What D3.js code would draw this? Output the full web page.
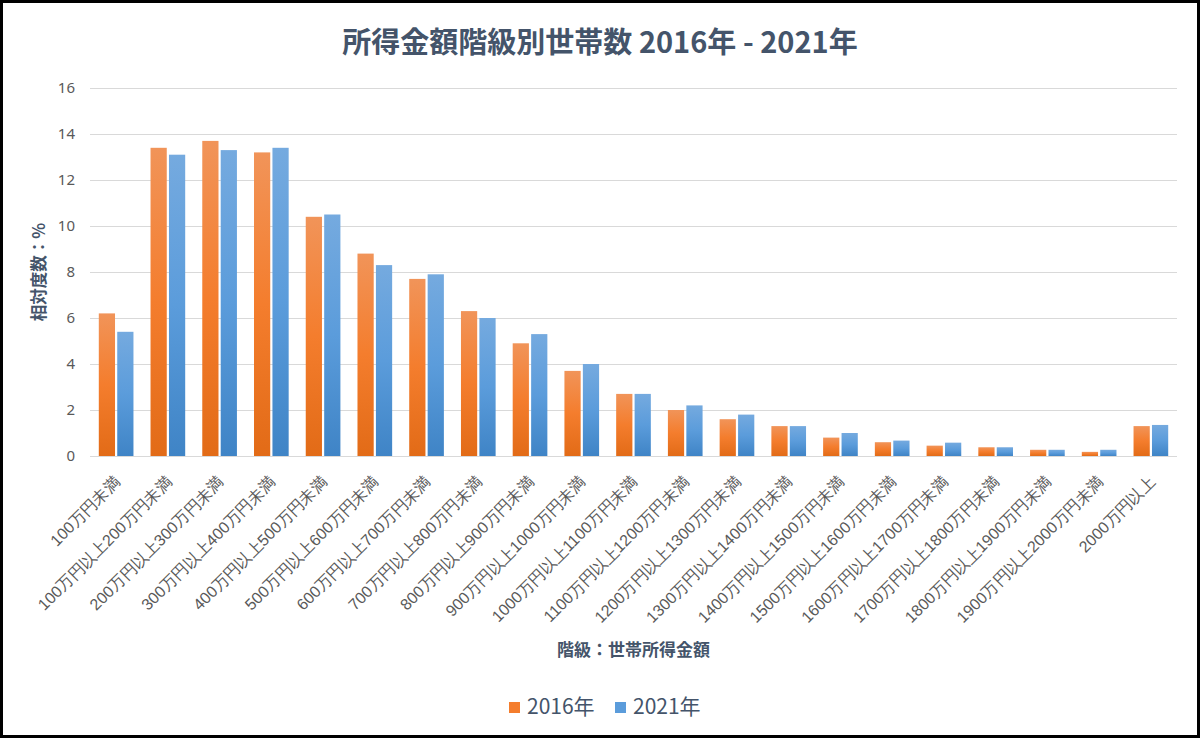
<!DOCTYPE html>
<html>
<head>
<meta charset="utf-8">
<script src="https://cdn.jsdelivr.net/npm/d3@7"></script>
<style>
    body { margin: 0; background: #fff; }
    svg { display: block; font-family: "Noto Sans CJK JP", "Noto Sans", sans-serif; }
</style>
</head>
<body>
<svg id="chart" width="1200" height="738"></svg>
<script>
// 階級 (categories)
var categories = [
    "100万円未満", "100万円以上200万円未満", "200万円以上300万円未満", "300万円以上400万円未満",
    "400万円以上500万円未満", "500万円以上600万円未満", "600万円以上700万円未満", "700万円以上800万円未満",
    "800万円以上900万円未満", "900万円以上1000万円未満", "1000万円以上1100万円未満", "1100万円以上1200万円未満",
    "1200万円以上1300万円未満", "1300万円以上1400万円未満", "1400万円以上1500万円未満", "1500万円以上1600万円未満",
    "1600万円以上1700万円未満", "1700万円以上1800万円未満", "1800万円以上1900万円未満", "1900万円以上2000万円未満",
    "2000万円以上"
];

var seriesNames = ["2016年", "2021年"];

var values2016 = [6.2, 13.4, 13.7, 13.2, 10.4, 8.8, 7.7, 6.3, 4.9, 3.7, 2.7, 2.0, 1.6, 1.3, 0.8, 0.6, 0.45, 0.38, 0.27, 0.18, 1.3];
var values2021 = [5.4, 13.1, 13.3, 13.4, 10.5, 8.3, 7.9, 6.0, 5.3, 4.0, 2.7, 2.2, 1.8, 1.3, 1.0, 0.67, 0.58, 0.38, 0.27, 0.27, 1.35];

var yTicks = [0, 2, 4, 6, 8, 10, 12, 14, 16];

var svg = d3.select("#chart");
var W = 1200, H = 738;
var plot = { left: 90, right: 1177, top: 88, bottom: 456 };

var textColor = "#595959";
var titleColor = "#44546A";

/**
 * Gradients for the bars, lighter at the top.
 */
var defs = svg.append("defs");
var gradients = [
    { id: "g2016", stops: ["#F19459", "#F47D2D", "#E26B17"] },
    { id: "g2021", stops: ["#75AADF", "#5B9CDB", "#3F84C6"] }
];
gradients.forEach(function(g) {
    var lg = defs.append("linearGradient").attr("id", g.id)
        .attr("x1", 0).attr("y1", 0).attr("x2", 0).attr("y2", 1);
    g.stops.forEach(function(c, i) {
        lg.append("stop").attr("offset", i / (g.stops.length - 1)).attr("stop-color", c);
    });
});

svg.append("rect").attr("width", W).attr("height", H).attr("fill", "#fff");

var x0 = d3.scaleBand().domain(categories).range([plot.left, plot.right])
    .paddingInner(0.33).paddingOuter(0.17);
var x1 = d3.scaleBand().domain(seriesNames).range([0, x0.bandwidth()]).paddingInner(0.12);
var y = d3.scaleLinear().domain([0, 16]).range([plot.bottom, plot.top]);

// gridlines
svg.append("g").selectAll("line").data(yTicks).enter().append("line")
    .attr("x1", plot.left).attr("x2", plot.right)
    .attr("y1", function(d) { return Math.round(y(d)) + 0.5; })
    .attr("y2", function(d) { return Math.round(y(d)) + 0.5; })
    .attr("stroke", "#D9D9D9").attr("stroke-width", 1.2);

// y axis labels
var yAxis = d3.axisLeft(y).tickValues(yTicks).tickSize(0).tickPadding(15);
var yg = svg.append("g").attr("transform", "translate(" + plot.left + ",0)").call(yAxis);
yg.select(".domain").remove();
yg.selectAll("text").attr("fill", textColor).style("font-size", "15px")
    .style("font-family", "\"Noto Sans\", \"Noto Sans CJK JP\", sans-serif");

// bars
var rows = categories.map(function(c, i) {
    return { cat: c, vals: [values2016[i], values2021[i]] };
});
var groups = svg.append("g").selectAll("g").data(rows).enter().append("g")
    .attr("transform", function(d) { return "translate(" + x0(d.cat) + ",0)"; });
groups.selectAll("rect").data(function(d) {
    return d.vals.map(function(v, k) { return { name: seriesNames[k], v: v, k: k }; });
}).enter().append("rect")
    .attr("x", function(d) { return x1(d.name); })
    .attr("width", x1.bandwidth())
    .attr("y", function(d) { return y(d.v); })
    .attr("height", function(d) { return y(0) - y(d.v); })
    .attr("fill", function(d) { return "url(#" + gradients[d.k].id + ")"; });

// x axis labels, rotated
var xAxis = d3.axisBottom(x0).tickSize(0).tickPadding(0);
var xg = svg.append("g").attr("transform", "translate(0," + plot.bottom + ")").call(xAxis);
xg.select(".domain").remove();
xg.selectAll("text")
    .attr("fill", textColor).style("font-size", "16px")
    .attr("text-anchor", "end")
    .attr("y", 0).attr("dy", 0)
    .attr("transform", "translate(5,27) rotate(-45)");

// titles
svg.append("text").attr("x", W / 2).attr("y", 53).attr("text-anchor", "middle")
    .attr("fill", titleColor).style("font-size", "29px").style("font-weight", "bold")
    .text("所得金額階級別世帯数 2016年 - 2021年");

svg.append("text").attr("transform", "translate(45," + ((plot.top + plot.bottom) / 2) + ") rotate(-90)")
    .attr("text-anchor", "middle").attr("fill", titleColor)
    .style("font-size", "16.5px").style("font-weight", "bold")
    .text("相対度数：%");

svg.append("text").attr("x", (plot.left + plot.right) / 2).attr("y", 656).attr("text-anchor", "middle")
    .attr("fill", titleColor).style("font-size", "17px").style("font-weight", "bold")
    .text("階級：世帯所得金額");

// legend
var legendItems = [{ name: "2016年", x: 509, color: "#F47D2D" }, { name: "2021年", x: 615, color: "#5B9CDB" }];
var lg = svg.append("g").selectAll("g").data(legendItems).enter().append("g")
    .attr("transform", function(d) { return "translate(" + d.x + ",0)"; });
lg.append("rect").attr("x", 0).attr("y", 702).attr("width", 11).attr("height", 11)
    .attr("fill", function(d) { return d.color; });
lg.append("text").attr("x", 18).attr("y", 714).attr("fill", titleColor)
    .style("font-size", "21px").text(function(d) { return d.name; });

// frame
svg.append("rect").attr("x", 1.5).attr("y", 1.5).attr("width", W - 3).attr("height", H - 3)
    .attr("fill", "none").attr("stroke", "#000").attr("stroke-width", 3);
</script>
</body>
</html>
